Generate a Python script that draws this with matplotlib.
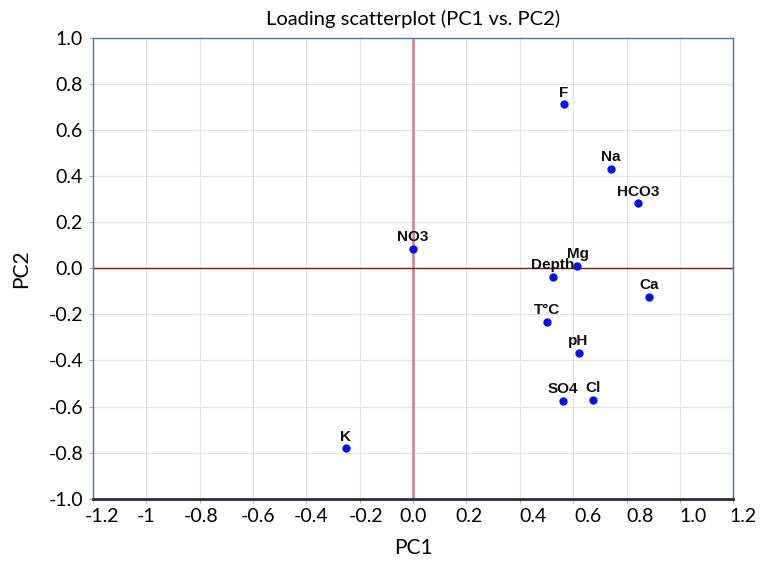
import matplotlib
matplotlib.use('Agg')
import matplotlib.pyplot as plt
from matplotlib.transforms import ScaledTranslation

plt.rcParams['font.family'] = ['Lato', 'DejaVu Sans']

variables = ['F', 'Na', 'HCO3', 'NO3', 'Mg', 'Depth', 'Ca', 'T°C', 'pH', 'SO4', 'Cl', 'K']
pc1 = [0.564, 0.741, 0.844, 0.0, 0.616, 0.523, 0.884, 0.502, 0.620, 0.560, 0.674, -0.253]
pc2 = [0.713, 0.433, 0.283, 0.086, 0.012, -0.035, -0.122, -0.232, -0.368, -0.575, -0.571, -0.782]

xticks = [-1.2, -1.0, -0.8, -0.6, -0.4, -0.2, 0.0, 0.2, 0.4, 0.6, 0.8, 1.0, 1.2]
xtick_labels = ['-1.2', '-1', '-0.8', '-0.6', '-0.4', '-0.2', '0.0',
                '0.2', '0.4', '0.6', '0.8', '1.0', '1.2']
yticks = [-1.0, -0.8, -0.6, -0.4, -0.2, 0.0, 0.2, 0.4, 0.6, 0.8, 1.0]
ytick_labels = ['-1.0', '-0.8', '-0.6', '-0.4', '-0.2', '0.0',
                '0.2', '0.4', '0.6', '0.8', '1.0']
# horizontal nudge of each x tick label, in pixels
xlabel_shift = [9, 0, 2, 5, 5, 6, 0, 3, 13, 15, 13, 13, 10]

fig = plt.figure(figsize=(7.62, 5.61), dpi=100)
ax = fig.add_axes([0.1217, 0.1114, 0.8407, 0.82])

ax.set_xlim(-1.2, 1.2)
ax.set_ylim(-1.0, 1.0)
ax.set_xticks(xticks)
ax.set_xticklabels(xtick_labels)
ax.set_yticks(yticks)
ax.set_yticklabels(ytick_labels)
ax.grid(True, color='#e4e4e4', linewidth=0.9)
ax.set_axisbelow(True)
ax.tick_params(axis='both', labelsize=14, length=3, color='#b0b0b0', pad=4)

for lbl, dx in zip(ax.get_xticklabels(), xlabel_shift):
    lbl.set_transform(lbl.get_transform() + ScaledTranslation(dx / 100, 0, fig.dpi_scale_trans))

# zero lines
ax.axvline(0, color='#c8707e', linewidth=2.0, alpha=0.8, zorder=1)
ax.axhline(0, color='#7a1a1a', linewidth=1.0, zorder=1.5)

ax.plot(pc1, pc2, 'o', color='#0a14d8', markersize=5, zorder=3)
for name, x, y in zip(variables, pc1, pc2):
    ax.annotate(name, (x, y), xytext=(0, 5.5), textcoords='offset points',
                ha='center', va='baseline', fontsize=11, fontweight='bold',
                family=['Liberation Sans', 'DejaVu Sans'], color='#111111', zorder=4)

for side in ['left', 'top', 'right']:
    ax.spines[side].set_color('#4a6fb5')
    ax.spines[side].set_linewidth(1.0)
ax.spines['bottom'].set_color('#2a2a3a')
ax.spines['bottom'].set_linewidth(2.0)

ax.set_title('Loading scatterplot (PC1 vs. PC2)', fontsize=14.5, pad=10)
ax.set_xlabel('PC1', fontsize=15, labelpad=9)
ax.set_ylabel('PC2', fontsize=15, labelpad=12)

fig.savefig('out.png', dpi=100)
